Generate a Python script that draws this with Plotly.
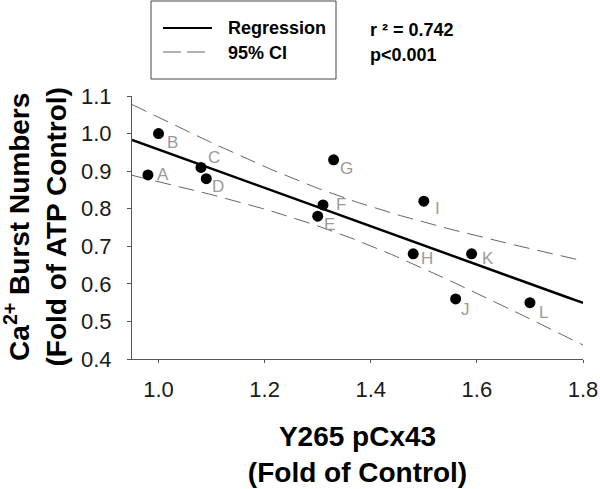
import numpy as np
import plotly.graph_objects as go

# ---- data ----
labels = ["A", "B", "C", "D", "E", "F", "G", "H", "I", "J", "K", "L"]
pcx43 = [0.98, 1.00, 1.08, 1.09, 1.30, 1.31, 1.33, 1.48, 1.50, 1.56, 1.59, 1.70]
burst = [0.89, 1.00, 0.91, 0.88, 0.78, 0.81, 0.93, 0.68, 0.82, 0.56, 0.68, 0.55]
x_ticks = [1.0, 1.2, 1.4, 1.6, 1.8]
y_ticks = [0.4, 0.5, 0.6, 0.7, 0.8, 0.9, 1.0, 1.1]
x_range = [0.95, 1.8]
y_range = [0.4, 1.1]
r2_text = "r ² = 0.742"
p_text = "p<0.001"
x_title = "Y265 pCx43<br>(Fold of Control)"
y_title = "Ca<sup>2+</sup> Burst Numbers<br>(Fold of ATP Control)"

# label offsets (pixels, style only)
lab_dx = [15, 14, 13, 12, 12, 18, 13, 14, 14, 10, 16, 14]
lab_dy = [0, 9, -10, 8, 8, 0, 9, 5, 7, 11, 5, 10]

# ---- regression + 95% CI of the mean ----
x = np.array(pcx43)
y = np.array(burst)
n = len(x)
slope, intercept = np.polyfit(x, y, 1)
resid = y - (slope * x + intercept)
s = np.sqrt(np.sum(resid ** 2) / (n - 2))
sxx = np.sum((x - x.mean()) ** 2)
t_crit = 2.228  # t(0.975, df=10)
xg = np.linspace(x_range[0], x_range[1], 100)
yg = slope * xg + intercept
half = t_crit * s * np.sqrt(1 / n + (xg - x.mean()) ** 2 / sxx)

W, H = 600, 489
L, R, T, B = 132, 17, 96, 130
pw, ph = W - L - R, H - T - B


def px(xp):
    return (xp - L) / pw


def py(yp):
    return (H - B - yp) / ph


FONT = "Liberation Sans, Arial, sans-serif"

fig = go.Figure()
fig.add_trace(go.Scatter(x=xg, y=yg + half, mode="lines",
                         line=dict(color="#666666", width=1, dash="16px,8px"),
                         showlegend=False, hoverinfo="skip"))
fig.add_trace(go.Scatter(x=xg, y=yg - half, mode="lines",
                         line=dict(color="#666666", width=1, dash="16px,8px"),
                         showlegend=False, hoverinfo="skip"))
fig.add_trace(go.Scatter(x=xg, y=yg, mode="lines",
                         line=dict(color="black", width=2.5),
                         showlegend=False, hoverinfo="skip"))
fig.add_trace(go.Scatter(x=pcx43, y=burst, mode="markers",
                         marker=dict(color="black", size=11),
                         showlegend=False))

annotations = []
for lb, xv, yv, dx, dy in zip(labels, pcx43, burst, lab_dx, lab_dy):
    annotations.append(dict(x=xv, y=yv, text=lb, showarrow=False,
                            xshift=dx, yshift=-dy,
                            font=dict(family=FONT, size=17, color="#9a9a9a")))

# legend box (drawn manually)
shapes = [
    dict(type="rect", xref="paper", yref="paper", x0=px(151), x1=px(336),
         y0=py(79), y1=py(1), line=dict(color="#444444", width=1)),
    dict(type="line", xref="paper", yref="paper", x0=px(163), x1=px(212),
         y0=py(28), y1=py(28), line=dict(color="black", width=2)),
    dict(type="line", xref="paper", yref="paper", x0=px(163), x1=px(206),
         y0=py(52), y1=py(52), line=dict(color="#666666", width=1, dash="18px,6px")),
]
for txt, xp, yp in [("Regression", 226, 28), ("95% CI", 226, 53),
                    (r2_text, 368, 30), (p_text, 368, 55)]:
    annotations.append(dict(xref="paper", yref="paper", x=px(xp), y=py(yp),
                            xanchor="left", yanchor="middle", text="<b>%s</b>" % txt,
                            showarrow=False,
                            font=dict(family=FONT, size=18, color="black")))

# y axis title as rotated annotation (exact placement)
annotations.append(dict(xref="paper", yref="paper", x=px(35), y=0.5,
                        xanchor="center", yanchor="middle", textangle=-90,
                        text="<b>%s</b>" % y_title, showarrow=False,
                        font=dict(family=FONT, size=28, color="black")))

fig.update_layout(
    width=W, height=H,
    margin=dict(l=L, r=R, t=T, b=B, autoexpand=False),
    paper_bgcolor="white", plot_bgcolor="white",
    font=dict(family=FONT, color="#1a1a1a"),
    shapes=shapes, annotations=annotations,
    showlegend=False,
)
fig.update_xaxes(range=x_range, tickvals=x_ticks, tickformat=".1f",
                 ticks="outside", ticklen=3, tickcolor="#555555",
                 showline=True, linecolor="#555555", linewidth=1,
                 showgrid=False, zeroline=False, automargin=False,
                 ticklabeloverflow="allow",
                 tickfont=dict(size=22, family=FONT, color="#1a1a1a"),
                 ticklabelstandoff=8,
                 title=dict(text="<b>%s</b>" % x_title,
                            font=dict(size=28, family=FONT, color="black"),
                            standoff=24))
fig.update_yaxes(range=y_range, tickvals=y_ticks, tickformat=".1f",
                 ticks="outside", ticklen=4, tickcolor="#555555",
                 showline=True, linecolor="#555555", linewidth=1,
                 showgrid=False, zeroline=False, automargin=False,
                 tickfont=dict(size=22, family=FONT, color="#1a1a1a"),
                 ticklabelstandoff=11)

fig.write_html("out.html", config={"displayModeBar": False},
               post_script="document.body.style.margin='0';document.body.style.padding='0';")
